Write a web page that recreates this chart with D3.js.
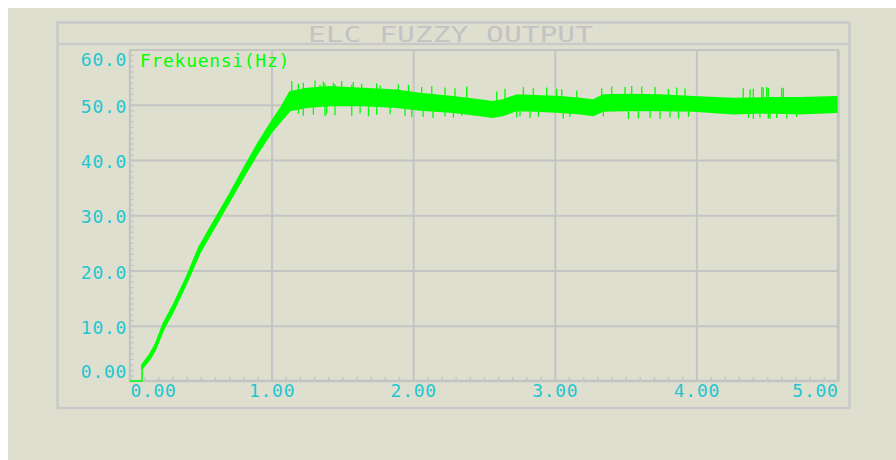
<!DOCTYPE html>
<html>
<head>
<meta charset="utf-8">
<title>ELC FUZZY OUTPUT</title>
<style>
  body { margin: 0; background: #fff; }
  svg { display: block; }
  text { font-family: "DejaVu Sans Mono", monospace; }
</style>
</head>
<body>
<svg width="896" height="460"></svg>
<script src="https://cdn.jsdelivr.net/npm/d3@7"></script>
<script>
// ---- data ----
var xTicks = [0, 1, 2, 3, 4, 5];
var xLabels = ["0.00", "1.00", "2.00", "3.00", "4.00", "5.00"];
var yTicks = [0, 10, 20, 30, 40, 50, 60];
var yLabels = ["0.00", "10.0", "20.0", "30.0", "40.0", "50.0", "60.0"];

// flat start before the ramp
var leadT = [0, 0.085, 0.085];
var leadV = [0, 0, 2.6];

// noisy band: time, upper edge, lower edge (Hz)
var bandT  = [0.085, 0.14, 0.18, 0.235, 0.31, 0.40, 0.49, 0.60, 0.706, 0.80, 0.895, 1.00, 1.07, 1.13, 1.25, 1.41, 1.65, 1.88, 2.05, 2.28, 2.47, 2.56, 2.63, 2.73, 2.87, 3.04, 3.18, 3.27, 3.34, 3.51, 3.74, 3.98, 4.26, 4.50, 4.73, 4.99];
var bandHi = [2.9, 4.8, 6.6, 10.3, 13.9, 18.8, 24.3, 29.2, 33.9, 38.3, 42.6, 46.9, 49.6, 52.3, 52.9, 53.2, 52.9, 52.6, 52.0, 51.4, 50.8, 50.5, 50.8, 51.7, 51.6, 51.4, 51.1, 50.8, 51.7, 51.8, 51.7, 51.4, 51.1, 51.2, 51.2, 51.4];
var bandLo = [2.3, 4.0, 5.8, 9.3, 12.9, 17.8, 23.1, 28.0, 32.7, 36.9, 41.0, 45.1, 47.2, 49.0, 49.6, 49.9, 49.9, 49.6, 49.1, 48.7, 48.1, 47.8, 48.1, 49.0, 48.9, 48.7, 48.4, 48.1, 48.9, 49.0, 49.0, 48.9, 48.4, 48.6, 48.4, 48.7];

// spikes above the band
var upT = [1.142, 1.189, 1.224, 1.307, 1.342, 1.365, 1.377, 1.436, 1.448, 1.495, 1.566, 1.577, 1.636, 1.742, 1.766, 1.895, 1.966,
           2.06, 2.131, 2.225, 2.295, 2.378, 2.590, 2.648, 2.778, 2.848, 2.943, 3.013,
           3.049, 3.155, 3.331, 3.402, 3.496, 3.543, 3.614, 3.708, 3.802, 3.861, 3.920,
           4.331, 4.379, 4.402, 4.461, 4.472, 4.496, 4.508, 4.602, 4.614];
var upV = [54.3, 53.8, 54.0, 54.4, 53.6, 54.2, 53.9, 54.0, 53.7, 54.3, 53.6, 54.1, 53.8, 53.9, 53.5, 53.7, 53.6,
           53.2, 53.4, 53.1, 53.0, 53.3, 52.4, 52.9, 53.2, 53.0, 53.1, 52.9,
           52.8, 52.6, 53.0, 53.3, 53.2, 53.4, 53.3, 53.2, 52.9, 53.1, 53.0,
           53.0, 52.8, 52.9, 53.2, 53.1, 53.2, 53.0, 53.1, 53.0];

// spikes below the band
var downT = [1.189, 1.224, 1.295, 1.377, 1.389, 1.448, 1.566, 1.625, 1.684, 1.742, 1.837, 1.943, 1.990,
             2.07, 2.14, 2.225, 2.284, 2.343, 2.731, 2.754, 2.825, 2.884,
             3.06, 3.107, 3.343, 3.520, 3.590, 3.673, 3.743, 3.814, 3.873, 3.944,
             4.367, 4.402, 4.449, 4.508, 4.520, 4.567, 4.638, 4.708];
var downV = [48.4, 48.0, 48.2, 47.9, 48.3, 48.1, 48.0, 48.4, 47.9, 48.2, 48.3, 48.0, 47.8,
             47.8, 47.6, 47.9, 47.7, 48.0, 47.7, 47.9, 47.6, 47.8,
             47.5, 47.8, 47.9, 47.4, 47.5, 47.6, 47.4, 47.7, 47.5, 47.8,
             47.6, 47.4, 47.7, 47.5, 47.4, 47.6, 47.5, 47.8];
var spikeBase = 50.0;

// ---- layout ----
var svg = d3.select("svg");
var bg = "#dfdfd0", gridCol = "#c4c4c4", frameCol = "#c9c9c9",
    labelCol = "#1fc6cf", green = "#00ff00";

svg.append("rect").attr("x", 8).attr("y", 8).attr("width", 888).attr("height", 452).attr("fill", bg);

// outer frame + title bar
svg.append("rect")
    .attr("x", 57.5).attr("y", 22.5).attr("width", 792).attr("height", 385.5)
    .attr("fill", "none").attr("stroke", frameCol).attr("stroke-width", 2.5);
svg.append("line")
    .attr("x1", 57.5).attr("x2", 849.5).attr("y1", 44).attr("y2", 44)
    .attr("stroke", frameCol).attr("stroke-width", 2.5);
svg.append("text")
    .attr("x", 308).attr("y", 41.5)
    .attr("textLength", 285).attr("lengthAdjust", "spacingAndGlyphs")
    .attr("font-size", 20.5).attr("fill", "#c3c3c3")
    .text("ELC FUZZY OUTPUT");

var pL = 130, pR = 838, pT = 49.5, pB = 381;
var x = d3.scaleLinear().domain([0, 5]).range([pL, pR]);
var y = d3.scaleLinear().domain([0, 60]).range([pB, pT]);

// grid
var g = svg.append("g");
g.append("g")
    .attr("transform", "translate(0," + pB + ")")
    .call(d3.axisBottom(x).tickValues(xTicks.slice(1)).tickSize(-(pB - pT)).tickFormat(""))
    .call(function(s) { s.select(".domain").remove(); s.selectAll("line").attr("stroke", gridCol).attr("stroke-width", 2); });
g.append("g")
    .attr("transform", "translate(" + pL + ",0)")
    .call(d3.axisLeft(y).tickValues(yTicks.slice(1)).tickSize(-(pR - pL)).tickFormat(""))
    .call(function(s) { s.select(".domain").remove(); s.selectAll("line").attr("stroke", gridCol).attr("stroke-width", 2); });

// minor ticks
g.append("g")
    .attr("transform", "translate(0," + pB + ")")
    .call(d3.axisTop(x).ticks(50).tickSize(4).tickFormat(""))
    .call(function(s) { s.select(".domain").remove(); s.selectAll("line").attr("stroke", gridCol).attr("stroke-width", 1.5); });
g.append("g")
    .attr("transform", "translate(" + pL + ",0)")
    .call(d3.axisRight(y).ticks(60).tickSize(4).tickFormat(""))
    .call(function(s) { s.select(".domain").remove(); s.selectAll("line").attr("stroke", gridCol).attr("stroke-width", 1.2); });

// axis lines
g.append("path")
    .attr("d", "M" + pL + "," + pT + "V" + pB + "H" + pR + "V" + pT)
    .attr("fill", "none").attr("stroke", gridCol).attr("stroke-width", 2.5);

// tick labels
var xAxis = svg.append("g")
    .attr("transform", "translate(0," + pB + ")")
    .call(d3.axisBottom(x).tickValues(xTicks).tickSize(0).tickPadding(16)
        .tickFormat(function(d, i) { return xLabels[i]; }));
xAxis.select(".domain").remove();
xAxis.selectAll("text")
    .attr("fill", labelCol).attr("font-size", 18).attr("letter-spacing", 0.7)
    .attr("font-family", "DejaVu Sans Mono").attr("dy", 0)
    .attr("text-anchor", function(d, i) { return i === 0 ? "start" : (i === xTicks.length - 1 ? "end" : "middle"); });

var yAxis = svg.append("g")
    .attr("transform", "translate(" + pL + ",0)")
    .call(d3.axisLeft(y).tickValues(yTicks).tickSize(0).tickPadding(3)
        .tickFormat(function(d, i) { return yLabels[i]; }));
yAxis.select(".domain").remove();
yAxis.selectAll("text")
    .attr("fill", labelCol).attr("font-size", 18).attr("letter-spacing", 0.7)
    .attr("font-family", "DejaVu Sans Mono")
    .attr("dy", function(d) { return d === 0 ? "-0.22em" : (d === 60 ? "0.9em" : "0.42em"); });

// legend
svg.append("text")
    .attr("x", 140).attr("y", 66.5)
    .attr("font-size", 18).attr("letter-spacing", 0.7)
    .attr("fill", green)
    .text("Frekuensi(Hz)");

// ---- signal ----
var sig = svg.append("g");
sig.append("path")
    .datum(leadT.map(function(t, i) { return [t, leadV[i]]; }))
    .attr("fill", "none").attr("stroke", green).attr("stroke-width", 1.5)
    .attr("d", d3.line().x(function(d) { return x(d[0]); }).y(function(d) { return y(d[1]); }));

sig.append("path")
    .datum(bandT.map(function(t, i) { return {t: t, hi: bandHi[i], lo: bandLo[i]}; }))
    .attr("fill", green).attr("stroke", green).attr("stroke-width", 2)
    .attr("stroke-linejoin", "round")
    .attr("d", d3.area()
        .x(function(d) { return x(d.t); })
        .y0(function(d) { return y(d.lo); })
        .y1(function(d) { return y(d.hi); }));

sig.selectAll(".up").data(upT).enter().append("line")
    .attr("x1", function(d) { return x(d); }).attr("x2", function(d) { return x(d); })
    .attr("y1", function(d, i) { return y(upV[i]); }).attr("y2", y(spikeBase))
    .attr("stroke", green).attr("stroke-width", 1.3);

sig.selectAll(".down").data(downT).enter().append("line")
    .attr("x1", function(d) { return x(d); }).attr("x2", function(d) { return x(d); })
    .attr("y1", function(d, i) { return y(downV[i]); }).attr("y2", y(spikeBase))
    .attr("stroke", green).attr("stroke-width", 1.3);
</script>
</body>
</html>
